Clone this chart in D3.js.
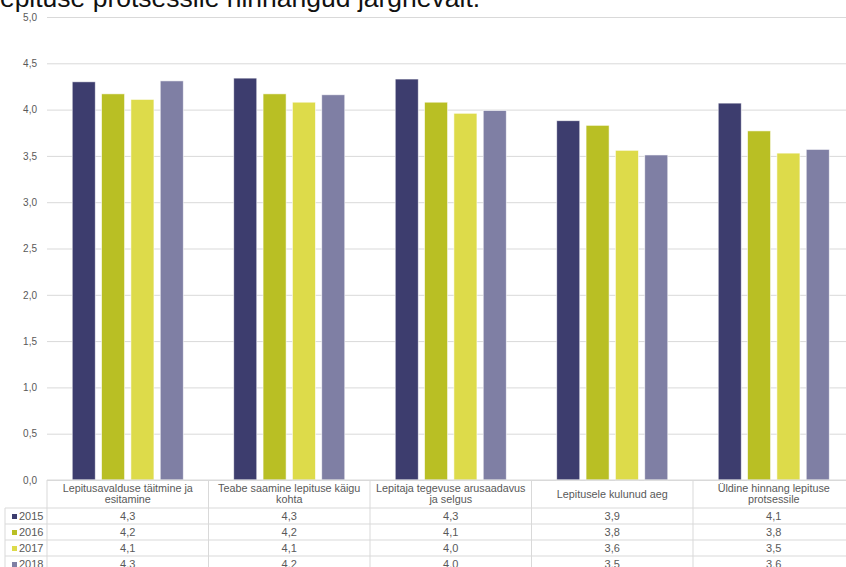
<!DOCTYPE html>
<html>
<head>
<meta charset="utf-8">
<script src="https://cdn.jsdelivr.net/npm/d3@7"></script>
<style>
  body { margin: 0; background: #fff; }
  svg { display: block; font-family: "Liberation Sans", Arial, sans-serif; }
</style>
</head>
<body>
<svg id="chart" width="846" height="567"></svg>
<script>
// header labels keep the line break the original table used
var categories = [
  'Lepitusavalduse täitmine ja\nesitamine',
  'Teabe saamine lepituse käigu\nkohta',
  'Lepitaja tegevuse arusaadavus\nja selgus',
  'Lepitusele kulunud aeg',
  'Üldine hinnang lepituse\nprotsessile'
];
var years = ['2015', '2016', '2017', '2018'];
var values2015 = [4.30, 4.34, 4.33, 3.88, 4.07];
var values2016 = [4.17, 4.17, 4.08, 3.83, 3.77];
var values2017 = [4.11, 4.08, 3.96, 3.56, 3.53];
var values2018 = [4.31, 4.16, 3.99, 3.51, 3.57];
var yTicks = [0, 0.5, 1, 1.5, 2, 2.5, 3, 3.5, 4, 4.5, 5];
var colors = ['#3d3d6e', '#b9bf24', '#dddb4a', '#7f7fa4'];
var titleText = 'lepituse protsessile hinnangud järgnevalt.';

var series = [values2015, values2016, values2017, values2018];

var svg = d3.select('#chart'),
    gridColor = '#d9d9d9',
    textColor = '#595959',
    plotLeft = 47,
    colWidth = 161.5,
    plotRight = 846,
    tableLeft = 5,
    headerBottom = 508,
    rowHeight = 16;

var fmt = function(v) { return d3.format('.1f')(v).replace('.', ','); };

var x0 = d3.scaleBand()
  .domain(categories)
  .range([plotLeft, plotLeft + colWidth * categories.length]);

var x1 = d3.scaleBand()
  .domain(years)
  .range([0, x0.bandwidth()])
  .paddingInner(0.215)
  .paddingOuter(0.86);

var y = d3.scaleLinear()
  .domain([0, 5])
  .range([480, 17]);

// cut-off sentence above the chart
svg.append('text')
  .attr('x', -6)
  .attr('y', 7)
  .attr('font-size', 26.5)
  .attr('fill', '#111')
  .text(titleText);

// gridlines + y labels
var yAxis = svg.append('g')
  .attr('transform', 'translate(' + plotLeft + ',0)')
  .call(d3.axisLeft(y)
    .tickValues(yTicks)
    .tickSize(-(plotRight - plotLeft))
    .tickPadding(10)
    .tickFormat(fmt));

yAxis.select('.domain').remove();
yAxis.selectAll('.tick line')
  .attr('stroke', gridColor)
  .attr('stroke-width', 1);
yAxis.selectAll('.tick text')
  .attr('fill', textColor)
  .attr('font-size', 10)
  .attr('font-family', '"Liberation Sans", Arial, sans-serif');

// bars
var groups = svg.append('g').selectAll('g')
  .data(categories)
  .enter()
  .append('g')
    .attr('transform', function(d) { return 'translate(' + x0(d) + ',0)'; });

groups.selectAll('rect')
  .data(function(d, i) {
    return years.map(function(yr, j) { return { year: yr, idx: j, value: series[j][i] }; });
  })
  .enter()
  .append('rect')
    .attr('x', function(d) { return x1(d.year); })
    .attr('y', function(d) { return y(d.value); })
    .attr('width', x1.bandwidth())
    .attr('height', function(d) { return y(0) - y(d.value); })
    .attr('fill', function(d) { return colors[d.idx]; })
    .attr('stroke', '#fff')
    .attr('stroke-opacity', 0.7)
    .attr('stroke-width', 0.8);

// data table under the plot
var table = svg.append('g');
var tableBottom = headerBottom + rowHeight * years.length;

table.append('line')
  .attr('x1', plotLeft).attr('x2', plotRight)
  .attr('y1', y(0)).attr('y2', y(0))
  .attr('stroke', gridColor);

table.selectAll('line.row')
  .data(d3.range(years.length + 1))
  .enter()
  .append('line')
    .attr('class', 'row')
    .attr('x1', tableLeft).attr('x2', plotRight)
    .attr('y1', function(d) { return headerBottom + d * rowHeight; })
    .attr('y2', function(d) { return headerBottom + d * rowHeight; })
    .attr('stroke', gridColor);

table.append('line')
  .attr('x1', tableLeft).attr('x2', tableLeft)
  .attr('y1', headerBottom).attr('y2', tableBottom)
  .attr('stroke', gridColor);

table.selectAll('line.col')
  .data(categories)
  .enter()
  .append('line')
    .attr('class', 'col')
    .attr('x1', function(d) { return x0(d); })
    .attr('x2', function(d) { return x0(d); })
    .attr('y1', y(0)).attr('y2', tableBottom)
    .attr('stroke', gridColor);

// header labels
var heads = table.selectAll('text.head')
  .data(categories)
  .enter()
  .append('text')
    .attr('class', 'head')
    .attr('text-anchor', 'middle')
    .attr('font-size', 10.8)
    .attr('fill', textColor);

heads.each(function(d) {
  var lines = d.split('\n'),
      cx = x0(d) + x0.bandwidth() / 2,
      firstY = lines.length > 1 ? 492 : 497.5,
      el = d3.select(this);
  lines.forEach(function(l, i) {
    el.append('tspan')
      .attr('x', cx)
      .attr('y', firstY + i * 10.6)
      .text(l);
  });
});

// legend cells + values
var rows = table.selectAll('g.datarow')
  .data(years)
  .enter()
  .append('g')
    .attr('class', 'datarow')
    .attr('transform', function(d, i) { return 'translate(0,' + (headerBottom + i * rowHeight) + ')'; });

rows.append('rect')
  .attr('x', 12)
  .attr('y', 6)
  .attr('width', 5)
  .attr('height', 5)
  .attr('fill', function(d, i) { return colors[i]; });

rows.append('text')
  .attr('x', 19)
  .attr('y', 12)
  .attr('font-size', 11)
  .attr('fill', textColor)
  .text(function(d) { return d; });

rows.selectAll('text.val')
  .data(function(d, i) { return series[i].map(function(v, k) { return { v: v, cat: categories[k] }; }); })
  .enter()
  .append('text')
    .attr('class', 'val')
    .attr('x', function(d) { return x0(d.cat) + x0.bandwidth() / 2; })
    .attr('y', 12)
    .attr('text-anchor', 'middle')
    .attr('font-size', 11)
    .attr('fill', textColor)
    .text(function(d) { return fmt(d.v); });
</script>
</body>
</html>
